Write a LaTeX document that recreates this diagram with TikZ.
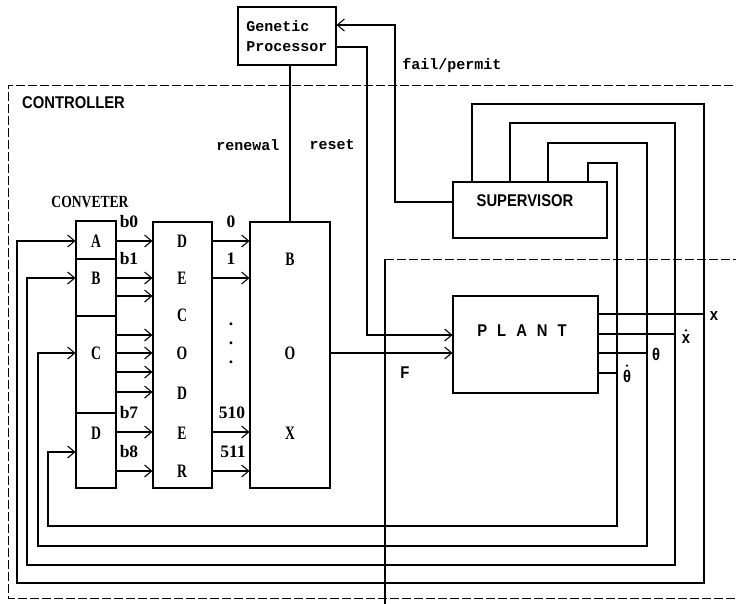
\documentclass[tikz,border=0pt]{standalone}
\usepackage{fontspec}
\usetikzlibrary{arrows.meta}
\newfontfamily\nsans[FakeStretch=0.87]{Liberation Sans}
\newfontfamily\nserif[FakeStretch=0.8]{Liberation Serif}
\newfontfamily\kserif[FakeStretch=0.72]{Liberation Serif}
\newfontfamily\rserif{Liberation Serif}
\newfontfamily\monof{Liberation Mono}
\tikzset{
  blk/.style={draw, line width=1.1pt, inner sep=0pt},
  ln/.style={line width=1.1pt},
  arr/.style={line width=1.1pt, -{Straight Barb[length=7pt,width=12pt,line width=1.1pt]}},
  dsh/.style={line width=1pt, dash pattern=on 9pt off 3pt},
  capsans/.style={font=\nsans\bfseries\fontsize{17}{19}\selectfont, inner sep=0pt},
  titl/.style={font=\nserif\bfseries\fontsize{17}{19}\selectfont, inner sep=0pt},
  letr/.style={font=\kserif\bfseries\fontsize{19}{21}\selectfont, inner sep=0pt},
  num/.style={font=\rserif\bfseries\fontsize{17.5}{19}\selectfont, inner sep=0pt},
  mlab/.style={font=\monof\bfseries\fontsize{15}{20}\selectfont, inner sep=0pt},
  dotacc/.style={fill, radius=1.3pt},
}
\begin{document}
\begin{tikzpicture}[x=1pt,y=-1pt]
\useasboundingbox (0,0) rectangle (736,603);
\clip (0,0) rectangle (736,603);

% dashed frames
\draw[dsh] (745,85) -- (8,85) -- (8,598) -- (745,598);
\draw[dsh] (385,259) -- (745,259);
\draw[ln] (385,610) -- (385,259);

% blocks
\node[blk, minimum width=98pt, minimum height=58pt, align=left, mlab, inner sep=0pt] (gp) at (287,36) {Genetic\\Processor};
\node[blk, minimum width=40pt, minimum height=267pt] (conv) at (96,354.5) {};
\node[blk, minimum width=59pt, minimum height=266pt] (dec) at (182.5,355) {};
\node[blk, minimum width=80pt, minimum height=266pt] (bx) at (290,355) {};
\node[blk, minimum width=145pt, minimum height=97pt] (plant) at (525.5,344.5) {};
\node[blk, minimum width=154pt, minimum height=56pt] (sup) at (530,210) {};

% converter dividers
\draw[ln] (conv.west |- 0,259) -- (conv.east |- 0,259);
\draw[ln] (conv.west |- 0,316) -- (conv.east |- 0,316);
\draw[ln] (conv.west |- 0,413) -- (conv.east |- 0,413);

% block texts
\node[capsans, anchor=west] (ctrl) at (22,103) {CONTROLLER};
\node[titl] (cvt) at (90,202) {CONVETER};
\node[capsans] (suplab) at (525,201) {SUPERVISOR};
\node[capsans] (plantlab) at (522,331) {P\hspace{10pt}L\hspace{10pt}A\hspace{10pt}N\hspace{10pt}T};
\node[letr] (la) at (96,241) {A};
\node[letr] (lb) at (96,278) {B};
\node[letr] (lc) at (96,353) {C};
\node[letr] (ld) at (96,433) {D};
\node[letr] (d1) at (182,241) {D};
\node[letr] (d2) at (182,278) {E};
\node[letr] (d3) at (182,315) {C};
\node[letr] (d4) at (182,353) {O};
\node[letr] (d5) at (182,393) {D};
\node[letr] (d6) at (182,433) {E};
\node[letr] (d7) at (182,471) {R};
\node[letr] (x1) at (290,259) {B};
\node[letr] (x2) at (290,353) {O};
\node[letr] (x3) at (290,433) {X};

% converter -> decoder
\foreach \yy in {241,278,296,335,353,372,392,432,471}
  \draw[arr] (conv.east |- 0,\yy) -- (dec.west |- 0,\yy);
\node[num] (lb0) at (129,222) {b0};
\node[num] (lb1) at (129,259) {b1};
\node[num] (lb7) at (129,413) {b7};
\node[num] (lb8) at (129,452) {b8};

% decoder -> box
\foreach \yy in {241,278,432,471}
  \draw[arr] (dec.east |- 0,\yy) -- (bx.west |- 0,\yy);
\node[num] (n0) at (231,222) {0};
\node[num] (n1) at (231,259) {1};
\node[num] (nd1) at (231,324) {.};
\node[num] (nd2) at (231,343) {.};
\node[num] (nd3) at (231,362) {.};
\node[num] (n510) at (232,413) {510};
\node[num] (n511) at (233,452) {511};

% genetic processor links
\draw[ln] (gp.south -| bx.north) -- (bx.north);
\draw[arr] ([yshift=-11pt]gp.east) -- (367,47) -- (367,335) -- (plant.west |- 0,335);
\draw[arr] (sup.west |- 0,202) -| (395,25) -- ([yshift=11pt]gp.east);
\node[mlab] (lren) at (248,145) {renewal};
\node[mlab] (lres) at (332,145) {reset};
\node[mlab] (lfail) at (452,66) {fail/permit};

% box -> plant
\draw[arr] (bx.east |- 0,353) -- (plant.west |- 0,353);
\node[capsans] (lF) at (405,373) {F};

% supervisor feedback loops
\draw[arr] (sup.north -| 472,0) |- (704,104) |- (17,583) |- (conv.west |- 0,241);
\draw[arr] (sup.north -| 510,0) |- (675,123) |- (27,565) |- (conv.west |- 0,278);
\draw[arr] (sup.north -| 548,0) |- (647,143) |- (38,546) |- (conv.west |- 0,353);
\draw[arr] (sup.north -| 588,0) |- (617,163) |- (48,526) |- (conv.west |- 0,452);

% plant outputs
\draw[ln] (plant.east |- 0,314) -- (704,314);
\draw[ln] (plant.east |- 0,334) -- (675,334);
\draw[ln] (plant.east |- 0,353) -- (647,353);
\draw[ln] (plant.east |- 0,373) -- (617,373);
\node[capsans] (ox) at (714,316) {x};
\node[capsans] (oxd) at (686,339) {x};
\fill[dotacc] ([yshift=4pt]oxd.north) circle;
\node[capsans] (oth) at (656,354) {θ};
\node[capsans] (othd) at (627,376) {θ};
\fill[dotacc] ([yshift=4pt]othd.north) circle;
\end{tikzpicture}
\end{document}
